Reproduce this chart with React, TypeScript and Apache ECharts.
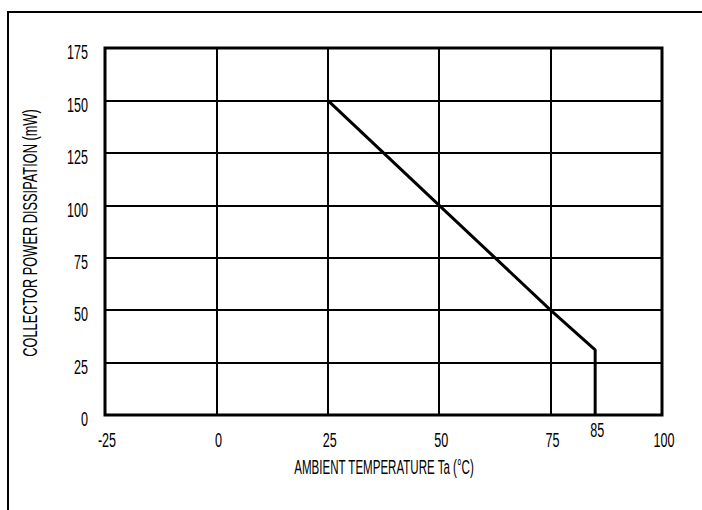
import React, { useEffect, useRef } from "react";
import * as echarts from "echarts";

const xTicks = [-25, 0, 25, 50, 75, 100];
const yTicks = [0, 25, 50, 75, 100, 125, 150, 175];
const specialXTick = [85];
const deratingCurve: [number, number][] = [
  [25, 150],
  [50, 100],
  [75, 50],
  [85, 31],
  [85, 0],
];
const xTitle = "AMBIENT TEMPERATURE Ta (°C)";
const yTitle = "COLLECTOR POWER DISSIPATION (mW)";

const FONT = "Liberation Sans, Arial, sans-serif";

export default function App() {
  const ref = useRef<HTMLDivElement>(null);
  useEffect(() => {
    document.body.style.margin = "0";
    const chart = echarts.init(ref.current!, undefined, { renderer: "svg" });
    chart.setOption({
      animation: false,
      backgroundColor: "#fff",
      grid: {
        left: 105,
        top: 48,
        width: 557,
        height: 367,
        show: true,
        borderColor: "#000",
        borderWidth: 3,
        backgroundColor: "transparent",
      },
      xAxis: {
        type: "value",
        min: xTicks[0],
        max: xTicks[xTicks.length - 1],
        interval: 25,
        axisLine: { show: false },
        axisTick: { show: false },
        splitLine: { show: true, lineStyle: { color: "#000", width: 2 } },
        axisLabel: { show: false },
      },
      yAxis: {
        type: "value",
        min: yTicks[0],
        max: yTicks[yTicks.length - 1],
        interval: 25,
        axisLine: { show: false },
        axisTick: { show: false },
        splitLine: { show: true, lineStyle: { color: "#000", width: 2 } },
        axisLabel: { show: false },
      },
      series: [
        {
          type: "line",
          data: deratingCurve,
          showSymbol: false,
          symbol: "none",
          lineStyle: { color: "#000", width: 3 },
        },
      ],
    });

    const digitStyle = { fill: "#000", fontFamily: FONT, fontSize: 21 };
    const digitScale = 0.6;
    const graphics: any[] = [
      { type: "line", shape: { x1: 8, y1: 12, x2: 8, y2: 510 }, style: { stroke: "#000", lineWidth: 2 }, z: 10 },
      { type: "line", shape: { x1: 7, y1: 12, x2: 702, y2: 12 }, style: { stroke: "#000", lineWidth: 2 }, z: 10 },
    ];
    yTicks.forEach((v) => {
      const p = chart.convertToPixel({ gridIndex: 0 }, [xTicks[0], v]) as number[];
      graphics.push({
        type: "text",
        x: 88,
        y: p[1] + 4,
        scaleX: digitScale,
        z: 10,
        style: { ...digitStyle, text: String(v), align: "right", verticalAlign: "middle" },
      });
    });
    xTicks.forEach((v) => {
      const p = chart.convertToPixel({ gridIndex: 0 }, [v, 0]) as number[];
      graphics.push({
        type: "text",
        x: p[0] + 2,
        y: p[1] + 25,
        scaleX: digitScale,
        z: 10,
        style: { ...digitStyle, text: String(v), align: "center", verticalAlign: "middle" },
      });
    });
    specialXTick.forEach((v) => {
      const p = chart.convertToPixel({ gridIndex: 0 }, [v, 0]) as number[];
      graphics.push({
        type: "text",
        x: p[0] + 2,
        y: p[1] + 15,
        scaleX: digitScale,
        z: 10,
        style: { ...digitStyle, text: String(v), align: "center", verticalAlign: "middle" },
      });
    });
    graphics.push({
      type: "text",
      x: 384,
      y: 467,
      scaleX: 0.55,
      z: 10,
      style: { fill: "#000", fontFamily: FONT, fontSize: 21, text: xTitle, align: "center", verticalAlign: "middle" },
    });
    graphics.push({
      type: "text",
      x: 30,
      y: 233,
      rotation: Math.PI / 2,
      scaleX: 0.61,
      z: 10,
      style: { fill: "#000", fontFamily: FONT, fontSize: 21, text: yTitle, align: "center", verticalAlign: "middle" },
    });
    chart.setOption({ graphic: graphics });
    return () => chart.dispose();
  }, []);
  return <div ref={ref} style={{ width: 702, height: 510 }} />;
}
